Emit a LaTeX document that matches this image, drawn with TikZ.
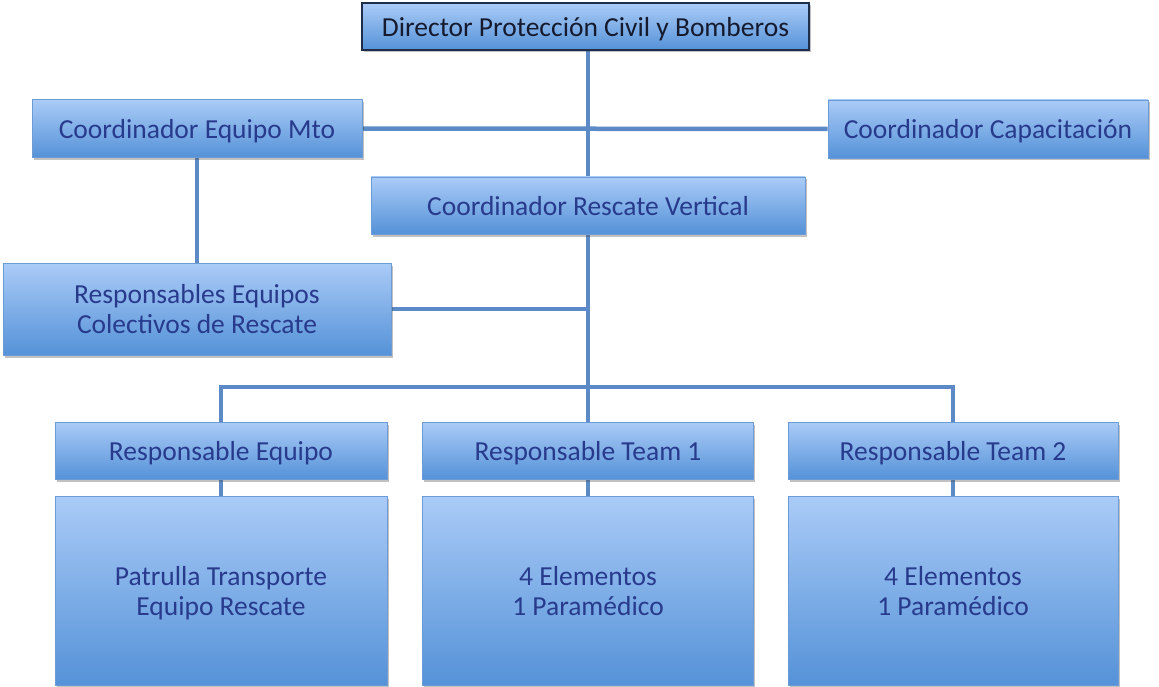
\documentclass[tikz,border=0pt]{standalone}
\usepackage{fontspec}
\setmainfont{Carlito}
\usetikzlibrary{shadows,backgrounds}
\definecolor{topc}{HTML}{AACBF7}
\definecolor{botc}{HTML}{5592D8}
\definecolor{edgec}{HTML}{6C9BD6}
\definecolor{linec}{HTML}{5B8AC6}
\definecolor{txtc}{HTML}{283A8C}
\definecolor{dirtxt}{HTML}{151A2E}
\definecolor{diredge}{HTML}{1E2E4A}
\tikzset{
  box/.style={rectangle, inner sep=0pt, draw=edgec, line width=0.8pt,
    top color=topc, bottom color=botc, text=txtc, align=center,
    font=\fontsize{27.5}{30}\selectfont, text depth=0pt,
    drop shadow={shadow xshift=1.5pt, shadow yshift=-2.5pt, opacity=0.35, fill=black!70}},
  conn/.style={draw=linec, line width=4.5pt}
}
\begin{document}
\begin{tikzpicture}[x=1pt,y=-1pt]
\useasboundingbox (0,0) rectangle (1159,687);
\node[box, draw=diredge, line width=1.2pt, text=dirtxt, minimum width=447pt, minimum height=47pt] (dir) at (585.5,26.5) {Director Protección Civil y Bomberos};
\node[box, minimum width=330pt, minimum height=58pt] (mto) at (197,128.5) {Coordinador Equipo Mto};
\node[box, minimum width=320pt, minimum height=58pt] (cap) at (988,129) {Coordinador Capacitación};
\node[box, minimum width=434pt, minimum height=57pt] (resc) at (588,205.5) {Coordinador Rescate Vertical};
\node[box, minimum width=388pt, minimum height=92pt] (col) at (197,309) {Responsables Equipos\\Colectivos de Rescate};
\node[box, minimum width=332pt, minimum height=57pt] (re) at (221,450.5) {Responsable Equipo};
\node[box, minimum width=331pt, minimum height=57pt] (t1) at (588,450.5) {Responsable Team 1};
\node[box, minimum width=330pt, minimum height=57pt] (t2) at (953,450.5) {Responsable Team 2};
\node[box, minimum width=332pt, minimum height=189pt] (b0) at (221,590.5) {Patrulla Transporte\\Equipo Rescate};
\node[box, minimum width=331pt, minimum height=189pt] (b1) at (588,590.5) {4 Elementos\\1 Paramédico};
\node[box, minimum width=330pt, minimum height=189pt] (b2) at (953,590.5) {4 Elementos\\1 Paramédico};
\coordinate (bus) at (588,387);
\begin{scope}[on background layer]
\draw[conn] (resc.north) -- (resc.north |- dir.south);
\draw[conn] (mto.east) -- (cap.west);
\draw[conn] (mto.south) -- (col.north);
\draw[conn] (resc.south) -- (t1.north);
\draw[conn] (col.east) -- (col.east -| resc.south);
\draw[conn] (re.north) |- (bus) -| (t2.north);
\draw[conn] (re.south) -- (b0.north);
\draw[conn] (t1.south) -- (b1.north);
\draw[conn] (t2.south) -- (b2.north);
\end{scope}
\end{tikzpicture}
\end{document}
